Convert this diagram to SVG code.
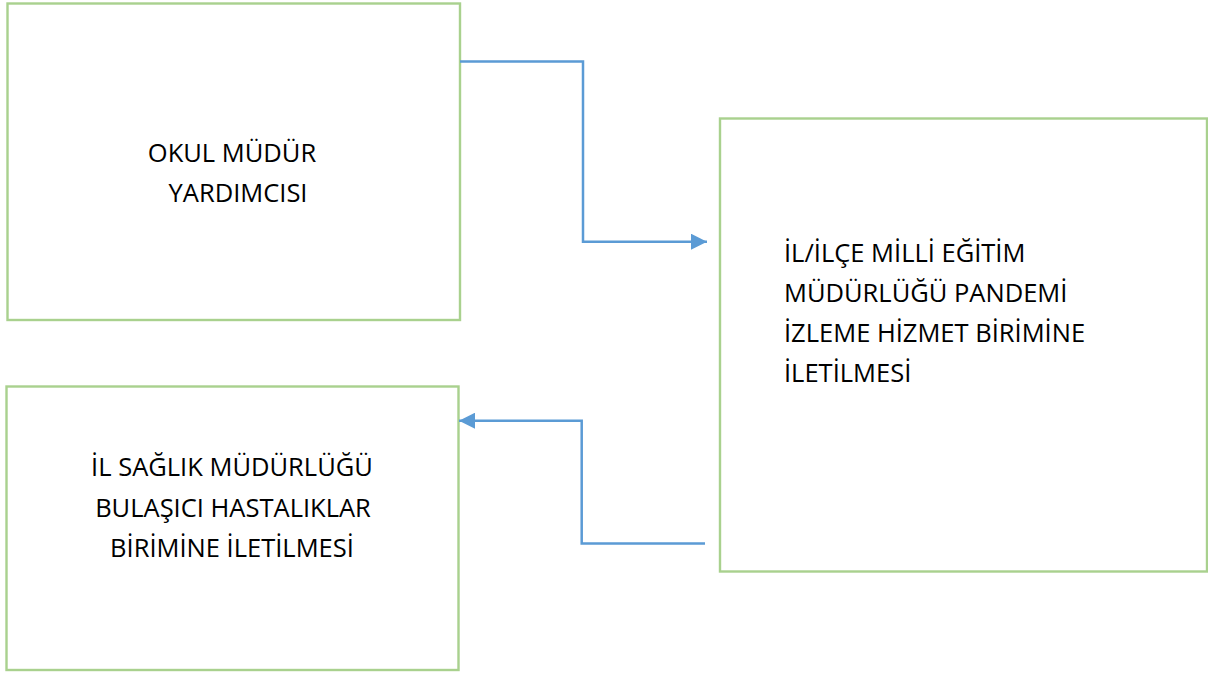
<svg xmlns="http://www.w3.org/2000/svg" width="1208" height="673" viewBox="0 0 1208 673">
<style>
.box{fill:#fff;stroke:#A9D18E;stroke-width:2.4}
.lbl{font-family:"Open Sans","Noto Sans","Liberation Sans",sans-serif;font-size:25.5px;fill:#000}
.c{text-anchor:middle}
.conn{fill:none;stroke:#5B9BD5;stroke-width:2.5}
</style>
<defs>
<marker id="ah" markerUnits="userSpaceOnUse" markerWidth="16" markerHeight="16" refX="16" refY="8" orient="auto">
<path d="M0,0 L16,8 L0,16 Z" fill="#5B9BD5"/>
</marker>
</defs>
<rect width="1208" height="673" fill="#fff"/>
<g id="node-okul">
<rect class="box" x="7.5" y="3.5" width="452.5" height="316.5"/>
<text class="lbl c" x="232" y="162">OKUL MÜDÜR</text>
<text class="lbl c" x="238" y="202">YARDIMCISI</text>
</g>
<g id="node-ilsaglik">
<rect class="box" x="6.5" y="386.5" width="452" height="283.5"/>
<text class="lbl c" x="232" y="476">İL SAĞLIK MÜDÜRLÜĞÜ</text>
<text class="lbl c" x="233" y="517">BULAŞICI HASTALIKLAR</text>
<text class="lbl c" x="232" y="557">BİRİMİNE İLETİLMESİ</text>
</g>
<g id="node-meb">
<rect class="box" x="720" y="118.5" width="487" height="453"/>
<text class="lbl" x="784" y="262">İL/İLÇE MİLLİ EĞİTİM</text>
<text class="lbl" x="784" y="302">MÜDÜRLÜĞÜ PANDEMİ</text>
<text class="lbl" x="784" y="342">İZLEME HİZMET BİRİMİNE</text>
<text class="lbl" x="784" y="382">İLETİLMESİ</text>
</g>
<g id="connectors">
<path class="conn" d="M460,61.5 H583 V241.7 H707" marker-end="url(#ah)"/>
<path class="conn" d="M705,543.5 H581.7 V420.7 H459" marker-end="url(#ah)"/>
</g>
</svg>
